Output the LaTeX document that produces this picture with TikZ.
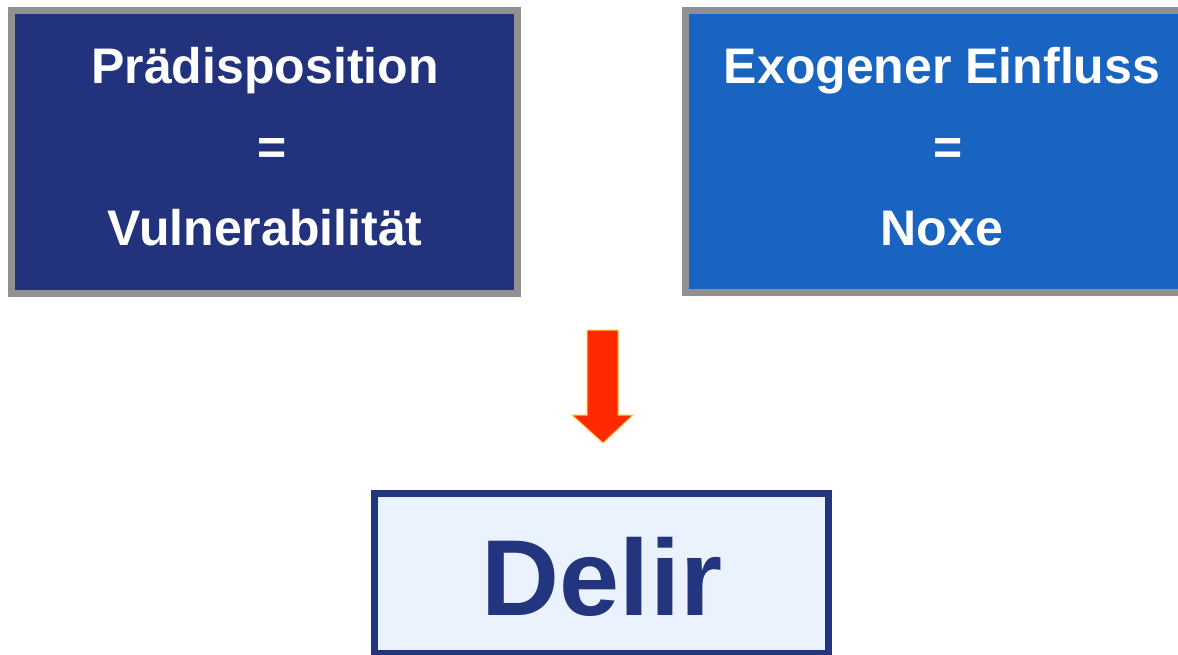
\documentclass[tikz,border=0pt]{standalone}
\usepackage{fontspec}
\setmainfont{Liberation Sans}
\definecolor{navy}{HTML}{22327D}
\definecolor{azure}{HTML}{1864C0}
\definecolor{framegray}{HTML}{919191}
\definecolor{paleblue}{HTML}{EAF2FD}
\definecolor{delirblue}{HTML}{23357E}
\definecolor{arrowred}{HTML}{FF2A00}
\definecolor{arrowrim}{HTML}{FFC840}
\tikzset{
  topbox/.style={draw=framegray, line width=7pt, rectangle, inner sep=0pt},
  toptext/.style={text=white, align=center,
    font=\fontsize{50}{81}\selectfont\bfseries},
  resultbox/.style={draw=delirblue, fill=paleblue, line width=7pt, rectangle,
    inner sep=0pt},
}
\begin{document}
\begin{tikzpicture}[x=1pt,y=-1pt]
  \useasboundingbox (0,0) rectangle (1178,655);
  \fill[white] (0,0) rectangle (1178,655);
  % predisposition box
  \node[topbox, fill=navy, minimum width=506pt, minimum height=283pt]
    (pre) at (264.5,152) {};
  \node[toptext] (pretext) at (265,147)
    {Prädisposition\\\hspace*{14pt}=\\Vulnerabilität};
  % exogenous influence box
  \node[topbox, fill=azure, minimum width=513pt, minimum height=282pt]
    (exo) at (942,151.5) {};
  \node[toptext] (exotext) at (942,147)
    {Exogener Einfluss\\\hspace*{12pt}=\\Noxe};
  % result box
  \node[resultbox, minimum width=454pt, minimum height=160pt]
    (delir) at (601.5,573.5) {};
  \node[text=delirblue, font=\fontsize{108}{110}\selectfont\bfseries, anchor=base]
    (delirtext) at (602,615) {Delir};
  % downward block arrow
  \filldraw[fill=arrowred, draw=arrowrim, line width=1pt, line join=miter]
    (587,330) -- (618,330) -- (618,415) -- (633,415) -- (603,443)
    -- (572,415) -- (587,415) -- cycle;
\end{tikzpicture}
\end{document}
